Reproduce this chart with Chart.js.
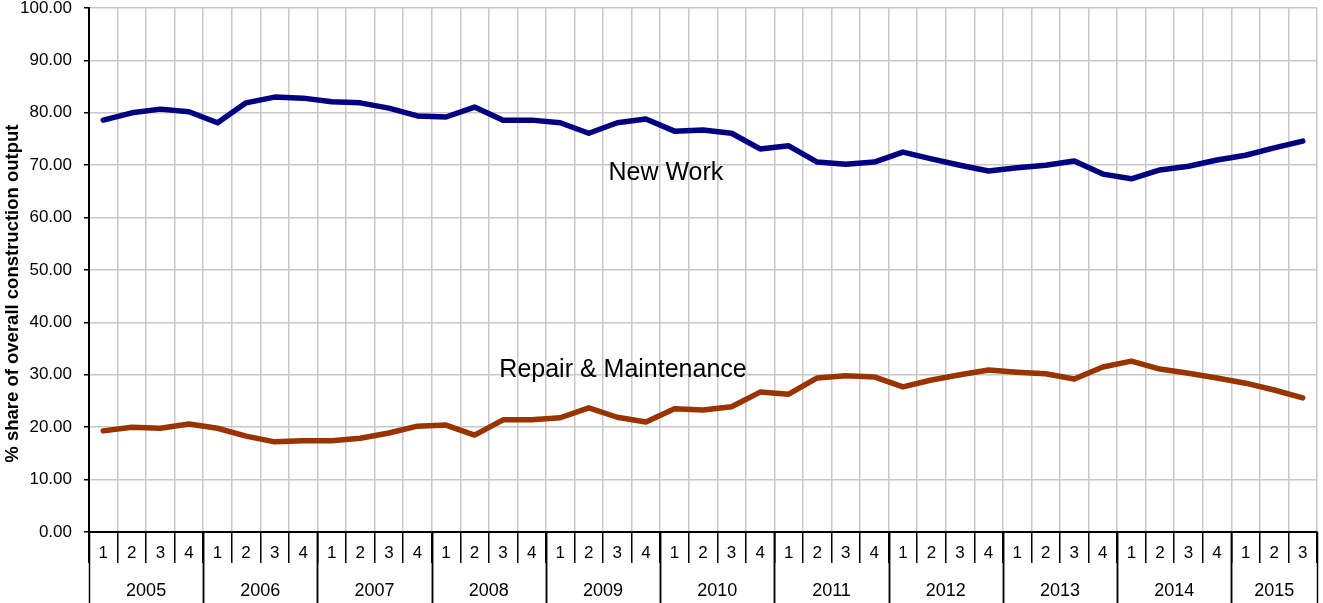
<!DOCTYPE html>
<html>
<head>
<meta charset="utf-8">
<script src="https://cdn.jsdelivr.net/npm/chart.js@4.4.1/dist/chart.umd.min.js"></script>
<style>
  html, body { margin: 0; padding: 0; background: #fff; }
  #wrap { width: 1323px; height: 603px; }
</style>
</head>
<body>
<div id="wrap"><canvas id="shareChart"></canvas></div>
<script>
// years and quarters (2005 Q1 .. 2015 Q3)
const years = ['2005', '2006', '2007', '2008', '2009', '2010', '2011', '2012', '2013', '2014', '2015'];
const quartersPerYear = [4, 4, 4, 4, 4, 4, 4, 4, 4, 4, 3];
const quarterLabels = [];
years.forEach((y, i) => {
    for (let q = 1; q <= quartersPerYear[i]; q++) quarterLabels.push(String(q));
});

const newWork = [
    78.6, 80.0, 80.7, 80.2,
    78.1, 81.9, 83.0, 82.8,
    82.1, 81.9, 80.9, 79.4,
    79.2, 81.1, 78.6, 78.6,
    78.1, 76.1, 78.1, 78.8,
    76.5, 76.7, 76.1, 73.1,
    73.7, 70.6, 70.2, 70.6,
    72.5, 71.2, 70.0, 68.9,
    69.5, 70.0, 70.8, 68.3,
    67.4, 69.1, 69.8, 71.0,
    71.9, 73.3, 74.6
];

const repairMaintenance = [
    19.3, 20.0, 19.8, 20.6,
    19.8, 18.3, 17.2, 17.4,
    17.4, 17.9, 18.9, 20.2,
    20.4, 18.5, 21.4, 21.4,
    21.8, 23.7, 21.9, 21.0,
    23.5, 23.3, 23.9, 26.7,
    26.3, 29.4, 29.8, 29.6,
    27.7, 29.0, 30.0, 30.9,
    30.5, 30.2, 29.2, 31.5,
    32.6, 31.1, 30.3, 29.4,
    28.4, 27.1, 25.6
];

const FONT = 'Arial, "Liberation Sans", sans-serif';
const yTitle = '% share of overall construction output';

// year row under the quarter numbers, the y title and the series names
const yearRowPlugin = {
    id: 'yearRow',
    afterDraw(chart) {
        const ctx = chart.ctx;
        const x = chart.scales.x;
        const y = chart.scales.y;
        const bottom = chart.height;
        ctx.save();
        ctx.strokeStyle = '#000';
        ctx.lineWidth = 1.5;
        ctx.fillStyle = '#000';
        ctx.font = '18px ' + FONT;
        ctx.textAlign = 'center';
        ctx.textBaseline = 'middle';
        let start = 0;
        years.forEach((yr, i) => {
            const end = start + quartersPerYear[i];
            const x0 = x.getPixelForValue(start - 0.5);
            const x1 = x.getPixelForValue(end - 0.5);
            [x0, x1].forEach(px => {
                ctx.beginPath();
                ctx.moveTo(Math.round(px) + 0.5, x.top);
                ctx.lineTo(Math.round(px) + 0.5, bottom);
                ctx.stroke();
            });
            ctx.fillText(yr, (x0 + x1) / 2, 591);
            start = end;
        });

        ctx.font = '25px ' + FONT;
        ctx.fillText('New Work', x.getPixelForValue(19.7), y.getPixelForValue(68.4));
        ctx.fillText('Repair & Maintenance', x.getPixelForValue(18.2), y.getPixelForValue(30.9));

        // y axis title, sits a bit below the plot centre like the original
        ctx.translate(13, y.getPixelForValue(45.5));
        ctx.rotate(-Math.PI / 2);
        ctx.font = 'bold 18.5px ' + FONT;
        ctx.fillText(yTitle, 0, 0);
        ctx.restore();
    }
};

new Chart(document.getElementById('shareChart'), {
    type: 'line',
    data: {
        labels: quarterLabels,
        datasets: [{
            label: 'New Work',
            data: newWork,
            borderColor: '#000080',
            borderWidth: 5.5,
            pointRadius: 0,
            tension: 0,
            borderCapStyle: 'round',
            borderJoinStyle: 'round'
        },
        {
            label: 'Repair & Maintenance',
            data: repairMaintenance,
            borderColor: '#993300',
            borderWidth: 5.5,
            pointRadius: 0,
            tension: 0,
            borderCapStyle: 'round',
            borderJoinStyle: 'round'
        }]
    },
    options: {
        responsive: true,
        maintainAspectRatio: false,
        animation: false,
        layout: {
            padding: { top: 0, right: 6, left: 0, bottom: 0 }
        },
        plugins: {
            legend: { display: false },
            tooltip: { enabled: false }
        },
        scales: {
            x: {
                offset: true,
                grid: {
                    offset: true,
                    color: '#c8c8c8',
                    lineWidth: 1.5,
                    tickColor: '#000',
                    tickLength: 31,
                    tickWidth: 1.5
                },
                border: { color: '#000', width: 2 },
                ticks: {
                    autoSkip: false,
                    maxRotation: 0,
                    padding: -20,
                    color: '#000',
                    font: { family: FONT, size: 17 }
                },
                afterFit(scale) {
                    scale.height = 71;
                }
            },
            y: {
                min: 0,
                max: 100,
                grid: {
                    color: '#c8c8c8',
                    lineWidth: 1.5,
                    tickColor: '#000',
                    tickLength: 5
                },
                border: { color: '#000', width: 2 },
                ticks: {
                    stepSize: 10,
                    padding: 12,
                    color: '#000',
                    font: { family: FONT, size: 17 },
                    callback: function (value) {
                        return value.toFixed(2);
                    }
                },
                afterFit(scale) {
                    scale.width = 89;
                    scale.paddingTop = 8;
                    scale.paddingBottom = 0;
                }
            }
        }
    },
    plugins: [yearRowPlugin]
});
</script>
</body>
</html>
